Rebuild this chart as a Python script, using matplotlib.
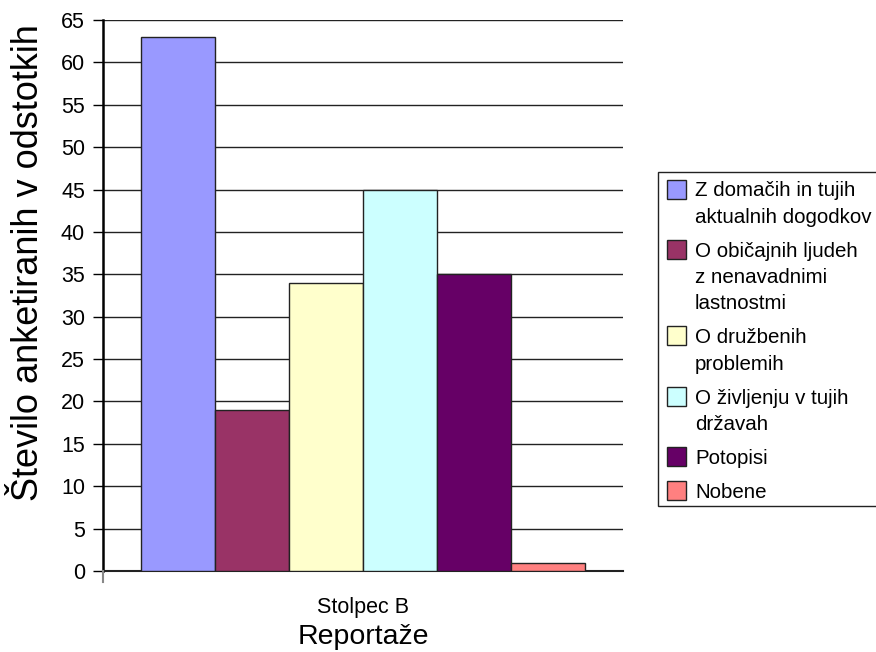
import numpy as np
import matplotlib.pyplot as plt
from matplotlib.patches import Rectangle

plt.rcParams['font.family'] = ['Liberation Sans', 'DejaVu Sans']

# Data
category = 'Stolpec B'
series = ['Z domačih in tujih\naktualnih dogodkov',
          'O običajnih ljudeh\nz nenavadnimi\nlastnostmi',
          'O družbenih\nproblemih',
          'O življenju v tujih\ndržavah',
          'Potopisi',
          'Nobene']
values = [63, 19, 34, 45, 35, 1]
colors = ['#9999FF', '#993366', '#FFFFCC', '#CCFFFF', '#660066', '#FF8080']
yticks = np.arange(0, 66, 5)

W, H = 876, 652
fig = plt.figure(figsize=(W/100, H/100), dpi=100)
ax = fig.add_axes([103/W, 1-571/H, 520/W, 551/H])

w = 0.1423
n = len(values)
for i, (v, c) in enumerate(zip(values, colors)):
    ax.bar((i - (n-1)/2) * w, v, width=w, color=c, edgecolor='#222222', linewidth=1, zorder=3)

ax.set_xlim(-0.5, 0.5)
ax.set_ylim(0, 65)
ax.set_yticks(yticks)
ax.yaxis.grid(True, color='#222222', linewidth=1, zorder=0)
ax.tick_params(axis='y', labelsize=15.5, length=7, width=1, direction='out', pad=6)
ax.set_xticks([0])
ax.set_xticklabels([category], fontsize=15.5)
ax.tick_params(axis='x', length=0, pad=19)

for s in ['top', 'right']:
    ax.spines[s].set_visible(False)
ax.spines['left'].set_linewidth(1.8)
ax.spines['bottom'].set_linewidth(1.5)
ax.spines['bottom'].set_color('#222222')
# small tick below the category axis at its left end
ax.plot([-0.5, -0.5], [0, -1.3], color='#888888', lw=1.5, clip_on=False, zorder=4)

ax.set_ylabel('Število anketiranih v odstotkih', fontsize=26, va='center')
ax.yaxis.set_label_coords((29-103)/520, (571-263)/551)
ax.set_xlabel('Reportaže', fontsize=20.5, va='center')
ax.xaxis.set_label_coords(0.5, (571-637)/551)

# legend, drawn by hand so the swatch sits on the first text line
def fx(x):
    return x / W

def fy(y):
    return 1 - y / H

fig.patches.append(Rectangle((fx(658), fy(506)), fx(880) - fx(658), fy(172) - fy(506),
                             transform=fig.transFigure, facecolor='white',
                             edgecolor='#222222', linewidth=1, zorder=1))
y = 189
line_h, gap = 26.3, 34
for lab, c in zip(series, colors):
    fig.patches.append(Rectangle((fx(667), fy(y + 9.5)), fx(19), 19/H,
                                 transform=fig.transFigure, facecolor=c,
                                 edgecolor='#222222', linewidth=1, zorder=2))
    lines = lab.split('\n')
    for k, ln in enumerate(lines):
        fig.text(fx(695), fy(y + k*line_h), ln, fontsize=14.8, ha='left', va='center_baseline', zorder=3)
    y += (len(lines) - 1) * line_h + gap

fig.savefig('out.png', dpi=100)
